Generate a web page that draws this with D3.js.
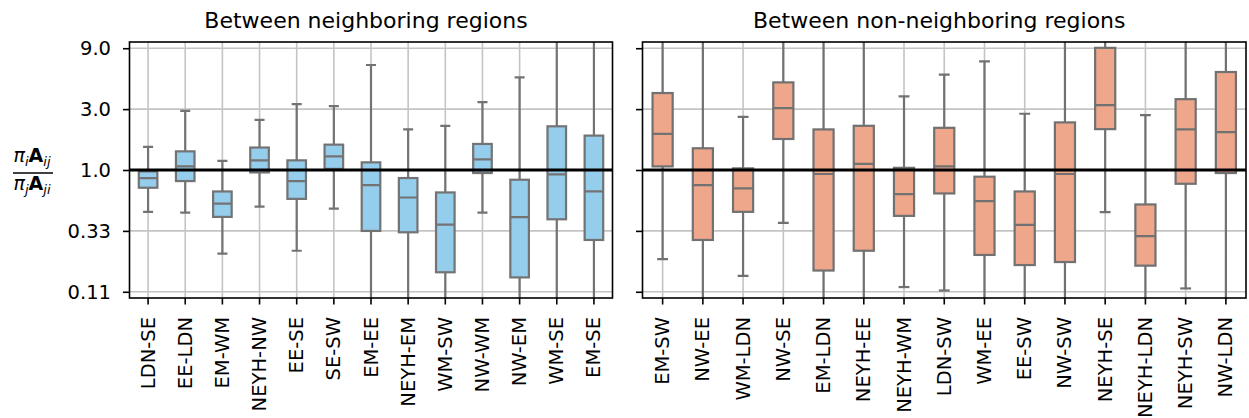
<!DOCTYPE html>
<html>
<head>
<meta charset="utf-8">
<script src="https://cdn.jsdelivr.net/npm/d3@7"></script>
<style>
  html, body { margin: 0; padding: 0; background: #fff; }
  svg { display: block; font-family: "DejaVu Sans", sans-serif; }
</style>
</head>
<body>
<svg id="chart" width="1249" height="418"></svg>
<script>
// Ratio distributions pi_i A_ij / pi_j A_ji per region pair (box-plot summaries).
// Whisker ends beyond the plotted range run off the axes and are clipped.
const nbCategories = ["LDN-SE","EE-LDN","EM-WM","NEYH-NW","EE-SE","SE-SW","EM-EE","NEYH-EM","WM-SW","NW-WM","NW-EM","WM-SE","EM-SE"];
const nbWhiskerLow  = [0.47, 0.464, 0.221, 0.517, 0.233, 0.499, 0.06, 0.06, 0.06, 0.464, 0.06, 0.06, 0.06];
const nbQ1          = [0.726, 0.819, 0.429, 0.957, 0.594, 1.02, 0.333, 0.325, 0.158, 0.947, 0.144, 0.411, 0.283];
const nbMedian      = [0.865, 1.067, 0.546, 1.19, 0.819, 1.28, 0.762, 0.609, 0.373, 1.21, 0.427, 0.923, 0.679];
const nbQ3          = [0.975, 1.40, 0.679, 1.50, 1.19, 1.58, 1.148, 0.865, 0.667, 1.60, 0.839, 2.20, 1.86];
const nbWhiskerHigh = [1.517, 2.91, 1.18, 2.47, 3.28, 3.17, 6.65, 2.08, 2.22, 3.40, 5.32, 14, 14];

const nnCategories = ["EM-SW","NW-EE","WM-LDN","NW-SE","EM-LDN","NEYH-EE","NEYH-WM","LDN-SW","WM-EE","EE-SW","NW-SW","NEYH-SE","NEYH-LDN","NEYH-SW","NW-LDN"];
const nnWhiskerLow  = [0.2005, 0.06, 0.148, 0.385, 0.06, 0.06, 0.121, 0.1137, 0.06, 0.06, 0.06, 0.467, 0.06, 0.118, 0.06];
const nnQ1          = [1.067, 0.283, 0.47, 1.75, 0.163, 0.233, 0.437, 0.655, 0.216, 0.180, 0.19, 2.09, 0.178, 0.780, 0.947];
const nnMedian      = [1.92, 0.762, 0.717, 3.05, 0.930, 1.115, 0.647, 1.067, 0.570, 0.371, 0.930, 3.22, 0.303, 2.08, 1.98];
const nnQ3          = [4.01, 1.48, 1.03, 4.86, 2.08, 2.22, 1.04, 2.14, 0.886, 0.679, 2.36, 9.06, 0.537, 3.59, 5.86];
const nnWhiskerHigh = [14, 14, 2.61, 14, 14, 14, 3.77, 5.59, 7.11, 2.76, 14, 14, 2.69, 14, 14];

const yTickValues = [1/9, 1/3, 1, 3, 9];
const yTickLabels = ["0.11", "0.33", "1.0", "3.0", "9.0"];

const panelTitles = ["Between neighboring regions", "Between non-neighboring regions"];

const svg = d3.select("#chart");
const plotTop = 42, plotBottom = 298;

const y = d3.scaleLog()
  .domain([Math.pow(10, -1.003), Math.pow(10, 1.003)])
  .range([plotBottom, plotTop]);

const panels = [
  { x0: 129.5, x1: 612.5, title: panelTitles[0], cats: nbCategories,
    lo: nbWhiskerLow, q1: nbQ1, med: nbMedian, q3: nbQ3, hi: nbWhiskerHigh,
    fill: "#95cdec", line: "#737373", labels: true },
  { x0: 642.5, x1: 1246, title: panelTitles[1], cats: nnCategories,
    lo: nnWhiskerLow, q1: nnQ1, med: nnMedian, q3: nnQ3, hi: nnWhiskerHigh,
    fill: "#eea78b", line: "#717171", labels: false }
];

const fontSize = 19.5;

panels.forEach((p, pi) => {
  const x = d3.scaleBand().domain(p.cats).range([p.x0, p.x1]).padding(0);
  const bw = x.bandwidth();
  const boxW = bw * 0.5;
  const capW = bw * 0.27;
  const cx = d => x(d) + bw / 2;

  const g = svg.append("g");
  const clipId = "clip" + pi;
  svg.append("clipPath").attr("id", clipId)
    .append("rect").attr("x", p.x0).attr("y", plotTop).attr("width", p.x1 - p.x0).attr("height", plotBottom - plotTop);

  // grid
  const grid = g.append("g");
  grid.selectAll("line.h").data(yTickValues).join("line")
    .attr("x1", p.x0).attr("x2", p.x1)
    .attr("y1", d => y(d)).attr("y2", d => y(d))
    .attr("stroke", "#c4c4c4").attr("stroke-width", 1.6);
  grid.selectAll("line.v").data(p.cats).join("line")
    .attr("x1", cx).attr("x2", cx)
    .attr("y1", plotTop).attr("y2", plotBottom)
    .attr("stroke", "#c4c4c4").attr("stroke-width", 1.6);

  // boxes
  const rows = p.cats.map((c, i) => ({ c, lo: p.lo[i], q1: p.q1[i], med: p.med[i], q3: p.q3[i], hi: p.hi[i] }));
  const boxes = g.append("g").attr("clip-path", `url(#${clipId})`)
    .selectAll("g").data(rows).join("g");

  const lw = 2.2;
  boxes.append("line")
    .attr("x1", d => cx(d.c)).attr("x2", d => cx(d.c))
    .attr("y1", d => y(d.q3)).attr("y2", d => y(d.hi))
    .attr("stroke", p.line).attr("stroke-width", lw);
  boxes.append("line")
    .attr("x1", d => cx(d.c)).attr("x2", d => cx(d.c))
    .attr("y1", d => y(d.q1)).attr("y2", d => y(d.lo))
    .attr("stroke", p.line).attr("stroke-width", lw);
  boxes.append("line")
    .attr("x1", d => cx(d.c) - capW / 2).attr("x2", d => cx(d.c) + capW / 2)
    .attr("y1", d => y(d.hi)).attr("y2", d => y(d.hi))
    .attr("stroke", p.line).attr("stroke-width", lw);
  boxes.append("line")
    .attr("x1", d => cx(d.c) - capW / 2).attr("x2", d => cx(d.c) + capW / 2)
    .attr("y1", d => y(d.lo)).attr("y2", d => y(d.lo))
    .attr("stroke", p.line).attr("stroke-width", lw);
  boxes.append("rect")
    .attr("x", d => cx(d.c) - boxW / 2).attr("width", boxW)
    .attr("y", d => y(d.q3)).attr("height", d => y(d.q1) - y(d.q3))
    .attr("fill", p.fill).attr("stroke", p.line).attr("stroke-width", lw);
  boxes.append("line")
    .attr("x1", d => cx(d.c) - boxW / 2).attr("x2", d => cx(d.c) + boxW / 2)
    .attr("y1", d => y(d.med)).attr("y2", d => y(d.med))
    .attr("stroke", p.line).attr("stroke-width", lw);

  // reference line at ratio 1
  g.append("line")
    .attr("x1", p.x0).attr("x2", p.x1)
    .attr("y1", y(1)).attr("y2", y(1))
    .attr("stroke", "#000").attr("stroke-width", 2.8);

  // frame
  g.append("rect")
    .attr("x", p.x0).attr("y", plotTop).attr("width", p.x1 - p.x0).attr("height", plotBottom - plotTop)
    .attr("fill", "none").attr("stroke", "#000").attr("stroke-width", 1.6);

  // x axis
  const xAxis = d3.axisBottom(x).tickSize(6.5).tickSizeOuter(0).tickPadding(0);
  const xg = g.append("g").attr("transform", `translate(0,${plotBottom})`).call(xAxis);
  xg.select(".domain").remove();
  xg.selectAll(".tick line").attr("stroke", "#000").attr("stroke-width", 1.6);
  xg.selectAll(".tick text")
    .attr("font-size", fontSize)
    .attr("font-family", "DejaVu Sans")
    .attr("fill", "#000")
    .attr("text-anchor", "end")
    .attr("dominant-baseline", "central")
    .attr("dy", null)
    .attr("y", 0)
    .attr("transform", "translate(0,19) rotate(-90)");

  // y axis
  const yAxis = d3.axisLeft(y).tickValues(yTickValues).tickSize(6.5).tickPadding(12)
    .tickFormat((d, i) => p.labels ? yTickLabels[i] : "");
  const yg = g.append("g").attr("transform", `translate(${p.x0},0)`).call(yAxis);
  yg.select(".domain").remove();
  yg.selectAll(".tick line").attr("stroke", "#000").attr("stroke-width", 1.6);
  yg.selectAll(".tick text")
    .attr("font-size", fontSize)
    .attr("font-family", "DejaVu Sans")
    .attr("fill", "#000");

  // title
  svg.append("text")
    .attr("x", (p.x0 + p.x1) / 2 - 5)
    .attr("y", 28)
    .attr("text-anchor", "middle")
    .attr("font-size", 22)
    .attr("fill", "#000")
    .text(p.title);
});

// y-axis label: pi_i A_ij / pi_j A_ji
const lab = svg.append("g").attr("font-size", 19).attr("fill", "#000");
const num = lab.append("text").attr("x", 32).attr("y", 162).attr("text-anchor", "middle");
num.append("tspan").attr("font-style", "italic").text("π");
num.append("tspan").attr("font-style", "italic").attr("font-size", 13).attr("dy", 4).text("i");
num.append("tspan").attr("font-weight", "bold").attr("dy", -4).text("A");
num.append("tspan").attr("font-style", "italic").attr("font-size", 13).attr("dy", 4).text("ij");
const den = lab.append("text").attr("x", 32).attr("y", 190).attr("text-anchor", "middle");
den.append("tspan").attr("font-style", "italic").text("π");
den.append("tspan").attr("font-style", "italic").attr("font-size", 13).attr("dy", 4).text("j");
den.append("tspan").attr("font-weight", "bold").attr("dy", -4).text("A");
den.append("tspan").attr("font-style", "italic").attr("font-size", 13).attr("dy", 4).text("ji");
lab.append("line").attr("x1", 13).attr("x2", 53).attr("y1", 173).attr("y2", 173)
  .attr("stroke", "#000").attr("stroke-width", 1.5);
</script>
</body>
</html>
